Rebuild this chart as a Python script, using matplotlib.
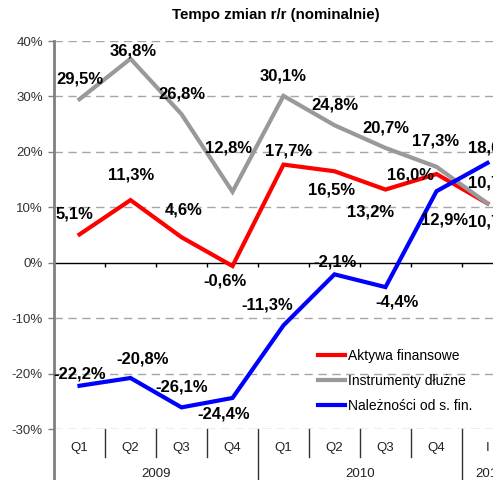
import matplotlib
matplotlib.use("Agg")
import matplotlib.pyplot as plt

# Dane
categories = ['Q1', 'Q2', 'Q3', 'Q4', 'Q1', 'Q2', 'Q3', 'Q4', 'I']
years = ['2009', '2010', '2011']
aktywa = [5.1, 11.3, 4.6, -0.6, 17.7, 16.5, 13.2, 16.0, 10.7]
instrumenty = [29.5, 36.8, 26.8, 12.8, 30.1, 24.8, 20.7, 17.3, 10.7]
naleznosci = [-22.2, -20.8, -26.1, -24.4, -11.3, -2.1, -4.4, 12.9, 18.0]
series_names = ['Aktywa finansowe', 'Instrumenty dłużne', 'Należności od s. fin.']

# Przesunięcia etykiet (w pikselach)
off_aktywa = [(-5, 20), (1, 25), (2, 27), (-8, -15), (5, 14), (-3, -19), (-15, -22), (-26, -1), (4, -19)]
off_instr = [(0, 20), (3, 8), (0, 20), (-4, 44), (0, 20), (0, 20), (0, 20), (-1, 26), (4, 20)]
off_nal = [(0, 12), (12, 19), (0, 20), (-9, -16), (-16, 20), (1, 12), (12, -15), (8, -29), (4, 15)]

plt.rcParams['font.family'] = ['Liberation Sans', 'DejaVu Sans']

W, H = 493, 480
fig = plt.figure(figsize=(W / 100, H / 100), dpi=100)
ax_left, ax_right, ax_top, ax_bot = 54, 513, 41, 429
ax = fig.add_axes([ax_left / W, 1 - ax_bot / H, (ax_right - ax_left) / W, (ax_bot - ax_top) / H])

x = list(range(len(categories)))
ax.set_xlim(-0.5, len(categories) - 0.5)
ax.set_ylim(-30, 40)

# Siatka
for v in range(-30, 41, 10):
    if v == 0:
        ax.axhline(0, color='black', lw=1, zorder=1)
    else:
        ax.axhline(v, color='#A6A6A6', lw=1, ls=(0, (6, 4)), zorder=1)
ax.vlines([i + 0.5 for i in x[:-1]], -0.7, 0, color='black', lw=1, zorder=1)

colors = ['#FF0000', '#999999', '#0000FF']
data = [aktywa, instrumenty, naleznosci]
offsets = [off_aktywa, off_instr, off_nal]
for vals, col, name in zip(data, colors, series_names):
    ax.plot(x, vals, color=col, lw=3, label=name, zorder=3, solid_joinstyle='miter')

for vals, offs in zip(data, offsets):
    for xi, v, (dx, dy) in zip(x, vals, offs):
        ax.annotate(f'{v:.1f}%'.replace('.', ','), (xi, v), xytext=(dx * 0.72, dy * 0.72),
                    textcoords='offset points', ha='center', va='center',
                    fontsize=12, fontweight='bold', zorder=5, annotation_clip=False)

for s in ['top', 'right', 'bottom', 'left']:
    ax.spines[s].set_visible(False)
# lewa oś wydłużona do dołu
ax.plot([0, 0], [-(H - ax_bot) / (ax_bot - ax_top), 1], transform=ax.transAxes,
        color='#808080', lw=2, clip_on=False, zorder=4)

ax.set_yticks(range(-30, 41, 10))
ax.set_yticklabels([f'{v}%' for v in range(-30, 41, 10)], fontsize=9.5, color='#333333')
ax.tick_params(axis='y', length=4, width=1, color='#808080', pad=4)
ax.set_xticks([])

# Etykiety kategorii wielopoziomowe
hpx = ax_bot - ax_top
for xi, c in zip(x, categories):
    ax.text(xi, -(448 - ax_bot) / hpx, c, transform=ax.get_xaxis_transform(),
            ha='center', va='center', fontsize=9.5, color='#222222')
for i in x[:-1]:
    if i in (3, 7):
        ax.plot([i + 0.5, i + 0.5], [0, -(H - ax_bot) / hpx], transform=ax.get_xaxis_transform(),
                color='#333333', lw=1, clip_on=False)
    else:
        ax.plot([i + 0.5, i + 0.5], [0, -(457 - ax_bot) / hpx], transform=ax.get_xaxis_transform(),
                color='#333333', lw=1, clip_on=False)
for yr, xc in zip(years, [1.5, 5.5, 8.05]):
    ax.text(xc, -(474 - ax_bot) / hpx, yr, transform=ax.get_xaxis_transform(),
            ha='center', va='center', fontsize=9.5, color='#222222')

fig.text(276 / W, 1 - 15 / H, 'Tempo zmian r/r (nominalnie)', ha='center', va='center',
         fontsize=10.8, fontweight='bold')

leg = ax.legend(loc='upper left', bbox_to_anchor=(318 / W, 1 - 349 / H), bbox_transform=fig.transFigure,
                frameon=False, fontsize=10, handlelength=1.95, handletextpad=0.2, labelspacing=0.8,
                borderpad=0, borderaxespad=0)
for ln in leg.get_lines():
    ln.set_linewidth(3)

fig.savefig('out.png', dpi=100)
